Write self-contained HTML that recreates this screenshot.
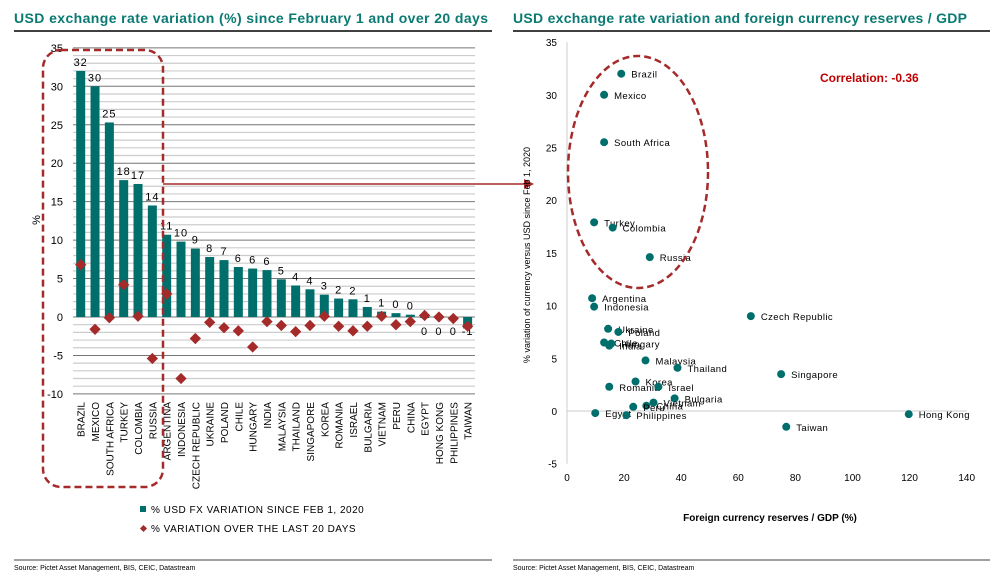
<!DOCTYPE html>
<html><head><meta charset="utf-8"><style>
body{margin:0;background:#fff;width:992px;height:576px;overflow:hidden;font-family:"Liberation Sans",sans-serif}
svg text{font-family:"Liberation Sans",sans-serif}
</style></head><body>
<svg id="s" width="992" height="576" xmlns="http://www.w3.org/2000/svg">
<text x="14" y="23" font-size="14" font-weight="bold" fill="#0a7a72" textLength="474">USD exchange rate variation (%) since February 1 and over 20 days</text>
<line x1="14" y1="31" x2="492" y2="31" stroke="#000" stroke-width="1.5"/>
<text x="513" y="23" font-size="14" font-weight="bold" fill="#0a7a72" textLength="454">USD exchange rate variation and foreign currency reserves / GDP</text>
<line x1="513" y1="31" x2="990" y2="31" stroke="#000" stroke-width="1.5"/>
<line x1="14" y1="560" x2="492" y2="560" stroke="#000" stroke-width="0.8"/>
<text x="14" y="570" font-size="7" fill="#000">Source: Pictet Asset Management, BIS, CEIC, Datastream</text>
<line x1="513" y1="560" x2="990" y2="560" stroke="#000" stroke-width="0.8"/>
<text x="513" y="570" font-size="7" fill="#000">Source: Pictet Asset Management, BIS, CEIC, Datastream</text>
<g id="left"></g><g id="right"></g>
</svg>
<script>
const categories=["BRAZIL","MEXICO","SOUTH AFRICA","TURKEY","COLOMBIA","RUSSIA","ARGENTINA","INDONESIA","CZECH REPUBLIC","UKRAINE","POLAND","CHILE","HUNGARY","INDIA","MALAYSIA","THAILAND","SINGAPORE","KOREA","ROMANIA","ISRAEL","BULGARIA","VIETNAM","PERU","CHINA","EGYPT","HONG KONG","PHILIPPINES","TAIWAN"];
const sinceFeb=[32,30,25.3,17.8,17.3,14.5,10.7,9.8,8.9,7.8,7.4,6.5,6.3,6.1,4.9,4.1,3.6,2.9,2.4,2.3,1.3,0.7,0.5,0.3,-0.05,-0.05,-0.1,-1.5];
const barLabels=["32","30","25","18","17","14","11","10","9","8","7","6","6","6","5","4","4","3","2","2","1","1","0","0","0","0","0","-1"];
const last20=[6.8,-1.6,-0.1,4.2,0.1,-5.4,3.0,-8.0,-2.8,-0.7,-1.4,-1.8,-3.9,-0.6,-1.1,-1.9,-1.1,0.1,-1.2,-1.8,-1.2,0.1,-1.0,-0.6,0.2,0.0,-0.2,-1.2];
const leftTicks=[35,30,25,20,15,10,5,0,-5,-10];
const scNames=["Brazil","Mexico","South Africa","Turkey","Colombia","Russia","Argentina","Indonesia","Czech Republic","Ukraine","Poland","Chile","Hungary","India","Malaysia","Thailand","Singapore","Korea","Romania","Israel","Bulgaria","Vietnam","China","Peru","Egypt","Philippines","Hong Kong","Taiwan"];
const scReserves=[19,13,13,9.5,16,29,8.8,9.5,64.4,14.4,18,13,15.5,14.8,27.5,38.7,75,24,14.8,32,37.7,30.3,27.8,23.2,9.9,20.8,119.7,76.8];
const scVariation=[32,30,25.5,17.9,17.4,14.6,10.7,9.9,9.0,7.8,7.5,6.5,6.4,6.2,4.8,4.1,3.5,2.8,2.3,2.3,1.2,0.8,0.5,0.4,-0.2,-0.4,-0.3,-1.5];
const xTicks=[0,20,40,60,80,100,120,140];
const yTicks=[35,30,25,20,15,10,5,0,-5];
const NS="http://www.w3.org/2000/svg";
function mk(p,t,a,txt){const e=document.createElementNS(NS,t);for(const k in a)e.setAttribute(k,a[k]);if(txt!==undefined)e.textContent=txt;p.appendChild(e);return e;}
// left chart
const L=document.getElementById('left');
const ly=v=>317-v*7.69;
const lx=i=>80.7+i*14.33;
for(let v=-10;v<=35;v++){const l=mk(L,'line',{x1:73,x2:475,y1:ly(v),y2:ly(v),stroke:v%5===0?'#777':'#ccc','stroke-width':v%5===0?1:1.2});

}
leftTicks.forEach(v=>{const t=mk(L,'text',{x:63,y:ly(v)+4,'font-size':11,'text-anchor':'end'},String(v));

});
const yt=mk(L,'text',{x:40,y:220,'font-size':11,transform:'rotate(-90 40 220)','text-anchor':'middle'},'%');


categories.forEach((c,i)=>{const v=sinceFeb[i];const y0=ly(0),y1=ly(v);
const b=mk(L,'rect',{x:lx(i)-4.5,y:Math.min(y0,y1),width:9,height:Math.max(1,Math.abs(y1-y0)),fill:'#006f6c'});


const ty=v>=0.2?y1-5:ly(0)+18;
const lb=mk(L,'text',{x:lx(i),y:ty,'font-size':11,'text-anchor':'middle','letter-spacing':1},barLabels[i]);


const dy=ly(last20[i]);
const d=mk(L,'rect',{x:lx(i)-4,y:dy-4,width:8,height:8,fill:'#a52a2a',transform:`rotate(45 ${lx(i)} ${dy})`});


const cl=mk(L,'text',{x:lx(i)+4,y:402,'font-size':10,'text-anchor':'end',transform:`rotate(-90 ${lx(i)+4} 402)`},c);

});
const hl=mk(L,'rect',{x:43,y:50,width:120,height:437,rx:18,fill:'none',stroke:'#a52a2a','stroke-width':2.5,'stroke-dasharray':'7,4'});


const ar=mk(L,'line',{x1:163,x2:524,y1:184,y2:184,stroke:'#a52a2a','stroke-width':1.5});


const ah=mk(L,'path',{d:'M534 184 L524 179 L524 189 Z',fill:'#a52a2a'});


const lg1=mk(L,'rect',{x:140,y:506,width:6,height:6,fill:'#006f6c'});


const lt1=mk(L,'text',{x:151,y:513,'font-size':10,'letter-spacing':0.5},'% USD FX VARIATION SINCE FEB 1, 2020');


const lg2=mk(L,'rect',{x:141,y:526,width:5,height:5,fill:'#a52a2a',transform:'rotate(45 143.5 528.5)'});


const lt2=mk(L,'text',{x:151,y:532,'font-size':10,'letter-spacing':0.5},'% VARIATION OVER THE LAST 20 DAYS');


// right chart
const R=document.getElementById('right');
const rx=v=>567+v*2.855;
const ry=v=>411-v*10.54;
const ax1=mk(R,'line',{x1:567,x2:567,y1:ry(35),y2:ry(-5),stroke:'#ccc'});


const ax2=mk(R,'line',{x1:567,x2:rx(140),y1:ry(0),y2:ry(0),stroke:'#ccc'});


yTicks.forEach(v=>{const t=mk(R,'text',{x:557,y:ry(v)+4,'font-size':10,'text-anchor':'end'},String(v));

});
xTicks.forEach(v=>{const t=mk(R,'text',{x:rx(v),y:481,'font-size':10,'text-anchor':'middle'},String(v));

});
const xt=mk(R,'text',{x:770,y:521,'font-size':10,'font-weight':'bold','text-anchor':'middle'},'Foreign currency reserves / GDP (%)');


const yt2=mk(R,'text',{x:530,y:255,'font-size':9,'text-anchor':'middle',transform:'rotate(-90 530 255)'},'% variation of currency versus USD since Feb 1, 2020');


scNames.forEach((n,i)=>{const x=rx(scReserves[i]),y=ry(scVariation[i]);
const c=mk(R,'circle',{cx:x,cy:y,r:4,fill:'#006f6c'});


const t=mk(R,'text',{x:x+10,y:y+4,'font-size':9.5,'letter-spacing':0.4},n);

});
const el=mk(R,'ellipse',{cx:638,cy:172,rx:70,ry:116,fill:'none',stroke:'#a52a2a','stroke-width':2.5,'stroke-dasharray':'7,4'});


const co=mk(R,'text',{x:820,y:82,'font-size':12,'font-weight':'bold',fill:'#c00000'},'Correlation: -0.36');


</script>
</body></html>
